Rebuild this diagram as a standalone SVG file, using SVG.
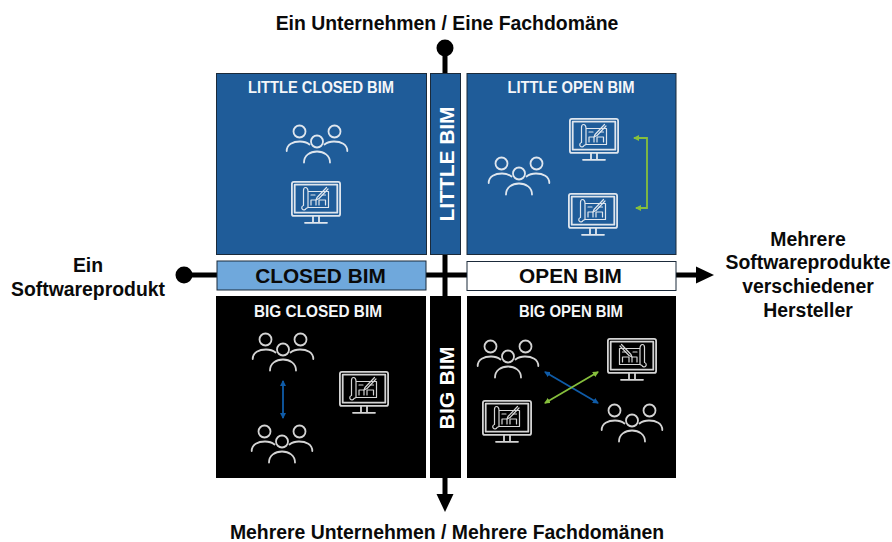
<svg xmlns="http://www.w3.org/2000/svg" width="892" height="542" viewBox="0 0 892 542">
<style>
text{font-family:"Liberation Sans",Arial,sans-serif;font-weight:bold;text-anchor:middle}
.lbl{font-size:19.400px;fill:#0a0a0a}
.t{font-size:16px;fill:#f4f6f9}
.blue{fill:#1f5c99;stroke:#1b2a3a;stroke-width:1}
.blk{fill:#000}
.big{font-size:20.800px;fill:#0a0a0a}
.vt{font-size:20px;fill:#fff}
.ic{fill:none;stroke-width:1.800;stroke-linecap:round;stroke-linejoin:round}
.w{stroke:#dfe6ee}.g{stroke:#d4d4d4}
.ax{stroke:#000;stroke-width:5;fill:none}
.cg{stroke:#86bf3c;stroke-width:1.800;fill:none}
.cb{stroke:#0f5ba7;stroke-width:1.800;fill:none}
</style>
<defs>
<marker id="ag" viewBox="0 0 6 6" refX="5" refY="3" markerWidth="6" markerHeight="6" orient="auto-start-reverse" markerUnits="userSpaceOnUse"><path d="M0 0L6 3L0 6z" fill="#86bf3c"/></marker>
<marker id="ab" viewBox="0 0 6 6" refX="5" refY="3" markerWidth="6" markerHeight="6" orient="auto-start-reverse" markerUnits="userSpaceOnUse"><path d="M0 0L6 3L0 6z" fill="#0f5ba7"/></marker>
<g id="people">
<circle cx="13.500" cy="6.500" r="6"/><circle cx="48.500" cy="6.500" r="6"/><circle cx="31" cy="16.500" r="6"/>
<path d="M.7 26C.7 19.500 7 16.500 14 16.500C18 16.500 21 17.500 23.500 19.500"/>
<path d="M61.300 26C61.300 19.500 55 16.500 48 16.500C44 16.500 41 17.500 38.500 19.500"/>
<path d="M18 37.500C18 30.500 24 26.500 31 26.500C38 26.500 44 30.500 44 37.500"/>
</g>
<g id="mon">
<rect x=".9" y=".9" width="48.200" height="34" rx="2"/>
<rect x="3.700" y="3.700" width="42.600" height="28"/>
<path d="M22 35V41.500M28 35V41.500M14 41.800H36"/>
<g stroke-width="1.200">
<path d="M17 10.500H37.500V26.500H17V10.500C17 8 16 6.500 14.500 6.500C13 6.500 12.500 8 12.500 9.500V24.500M12.500 24.500A2.200 2.200 0 1 0 15 27.500L17 26.500"/>
<path d="M20 24V19H25V24M28 24V19H34.500V24M20 14H24M31 14H34.500"/>
<path d="M26 16.500L35.500 6.500M28 17.500L37 8M26 16.500L25 19L28 17.500"/>
</g>
</g>
</defs>
<g id="connectors">
<path class="ax" d="M184 275H698"/>
<path class="ax" d="M445 48V496"/>
<circle cx="184" cy="275" r="8.500" fill="#000"/>
<circle cx="445" cy="48" r="8.500" fill="#000"/>
<path d="M696 266.500L714 275L696 283.500z" fill="#000"/>
<path d="M436.500 494L445 512L453.500 494z" fill="#000"/>
</g>
<g id="little-closed"><rect class="blue" x="216.500" y="73.500" width="210" height="181"/>
<text class="t" x="321" y="93" textLength="146" lengthAdjust="spacingAndGlyphs">LITTLE CLOSED BIM</text>
<use href="#people" x="286" y="125" class="ic w"/><use href="#mon" x="291" y="181" class="ic w"/></g>
<g id="little-bim"><rect class="blue" x="430.500" y="73.500" width="30" height="181"/>
<text class="vt" transform="translate(453.500 164) rotate(-90)" textLength="115" lengthAdjust="spacingAndGlyphs">LITTLE BIM</text></g>
<g id="little-open"><rect class="blue" x="467" y="73.500" width="209" height="181"/>
<text class="t" x="571" y="93" textLength="127" lengthAdjust="spacingAndGlyphs">LITTLE OPEN BIM</text>
<use href="#people" x="488" y="157" class="ic w"/><use href="#mon" x="569" y="118" class="ic w"/><use href="#mon" x="568" y="193" class="ic w"/>
<path class="cg" d="M634 138H647V208H636" marker-start="url(#ag)" marker-end="url(#ag)"/></g>
<g id="closed-bim"><rect x="217" y="261" width="209" height="29" fill="#6fa8dc" stroke="#1b2a3a"/>
<text class="big" x="320.500" y="283">CLOSED BIM</text></g>
<g id="open-bim"><rect x="467" y="261.500" width="209" height="29" fill="#fff" stroke="#1b2a3a"/>
<text class="big" x="570.500" y="283">OPEN BIM</text></g>
<g id="big-closed"><rect class="blk" x="216" y="296" width="210" height="182"/>
<text class="t" x="318" y="317" textLength="128" lengthAdjust="spacingAndGlyphs">BIG CLOSED BIM</text>
<use href="#people" x="252" y="333" class="ic g"/><use href="#people" x="251" y="425" class="ic g"/><use href="#mon" x="339" y="371" class="ic g"/>
<path class="cb" d="M283 381V418" marker-start="url(#ab)" marker-end="url(#ab)"/></g>
<g id="big-bim"><rect class="blk" x="430" y="296" width="31" height="182"/>
<text class="vt" transform="translate(453.500 388) rotate(-90)" textLength="83" lengthAdjust="spacingAndGlyphs">BIG BIM</text></g>
<g id="big-open"><rect class="blk" x="467" y="296" width="209" height="182"/>
<text class="t" x="571" y="317" textLength="104" lengthAdjust="spacingAndGlyphs">BIG OPEN BIM</text>
<use href="#people" x="477" y="340" class="ic g"/><use href="#people" x="601" y="404" class="ic g"/>
<use href="#mon" transform="translate(657 338) scale(-1 1)" class="ic g"/><use href="#mon" x="482" y="400" class="ic g"/>
<path class="cb" d="M545 372L598 403" marker-start="url(#ab)" marker-end="url(#ab)"/>
<path class="cg" d="M598 372L545 403" marker-start="url(#ag)" marker-end="url(#ag)"/></g>
<g id="labels">
<text class="lbl" x="447" y="30">Ein Unternehmen / Eine Fachdomäne</text>
<text class="lbl" x="447" y="539">Mehrere Unternehmen / Mehrere Fachdomänen</text>
<text class="lbl" x="88" y="272">Ein</text>
<text class="lbl" x="88" y="296">Softwareprodukt</text>
<text class="lbl" x="808" y="246">Mehrere</text>
<text class="lbl" x="808" y="269">Softwareprodukte</text>
<text class="lbl" x="808" y="293">verschiedener</text>
<text class="lbl" x="808" y="317">Hersteller</text>
</g>
</svg>
